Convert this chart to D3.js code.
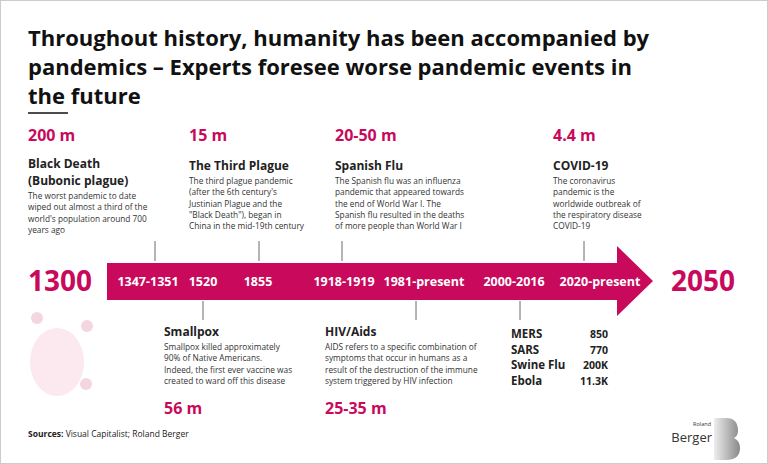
<!DOCTYPE html><html><head><meta charset="utf-8">
<script src="https://cdn.jsdelivr.net/npm/d3@7"></script>
<style>body{margin:0;background:#fff}text{font-family:"Open Sans",sans-serif}</style></head><body>
<script>
const periods=["1347-1351","1520","1855","1918-1919","1981-present","2000-2016","2020-present"];
const startYears=[1347,1520,1855,1918,1981,2000,2020];
const deaths=["200 m","56 m","15 m","20-50 m","25-35 m","","4.4 m"];
const names=["Black Death\n(Bubonic plague)","Smallpox","The Third Plague","Spanish Flu","HIV/Aids","","COVID-19"];
const descs=[
["The worst pandemic to date","wiped out almost a third of the","world's population around 700","years ago"],
["Smallpox killed approximately","90% of Native Americans.","Indeed, the first ever vaccine was","created to ward off this disease"],
["The third plague pandemic","(after the 6th century's","Justinian Plague and the","\"Black Death\"), began in","China in the mid-19th century"],
["The Spanish flu was an influenza","pandemic that appeared towards","the end of World War I.  The","Spanish flu resulted in the deaths","of more people than World War I"],
["AIDS refers to a specific combination of","symptoms that occur in humans as a","result of the destruction of the immune","system triggered by HIV infection"],
[],
["The coronavirus","pandemic is the","worldwide outbreak of","the respiratory disease","COVID-19"]];
const side=["up","down","up","up","down","down","up"];
const otherNames=["MERS","SARS","Swine Flu","Ebola"];
const otherDeaths=["850","770","200K","11.3K"];
const C="#c8095c";
const W=768,H=464;
const svg=d3.select("body").append("svg").attr("width",W).attr("height",H);
svg.append("rect").attr("x",0.5).attr("y",0.5).attr("width",W-1).attr("height",H-1).attr("fill","#fff").attr("stroke","#ccc");
const title=["Throughout history, humanity has been accompanied by","pandemics – Experts foresee worse pandemic events in","the future"];
svg.selectAll(".t").data(title).join("text").attr("x",28).attr("y",(d,i)=>46+i*29).attr("font-size",22).attr("font-weight",700).attr("fill","#111").attr("font-family","Lato, sans-serif").text(d=>d);
svg.append("line").attr("x1",28).attr("x2",68).attr("y1",113).attr("y2",113).attr("stroke","#111").attr("stroke-width",1.5);
const xLab=d3.scaleLinear().domain(startYears).range([148,203,258,344,424,514,600]);
const xTick=d3.scaleLinear().domain(startYears).range([155,203,259,342,416,520,584]);
const yMid=281;
svg.append("path").attr("d",`M107,263H617V246L653,${yMid}L617,316V300H107Z`).attr("fill",C);
svg.append("text").attr("x",28).attr("y",yMid+10).attr("font-size",28).attr("font-weight",700).attr("fill",C).text("1300");
svg.append("text").attr("x",671).attr("y",yMid+10).attr("font-size",28).attr("font-weight",700).attr("fill",C).text("2050");
svg.selectAll(".p").data(periods).join("text").attr("x",(d,i)=>xLab(startYears[i])).attr("y",yMid+5).attr("text-anchor","middle").attr("font-size",12.5).attr("font-weight",700).attr("fill","#fff").text(d=>d);
startYears.forEach((y,i)=>{
  const x=xTick(y),up=side[i]==="up";
  svg.append("line").attr("x1",x).attr("x2",x).attr("y1",up?241:301).attr("y2",up?261:320).attr("stroke","#444").attr("stroke-width",0.8);
});
const blockX=[28,164,189,335,325,511,553];
const g=svg.append("g");
startYears.forEach((y,i)=>{
  if(!names[i]) return;
  const x=blockX[i],up=side[i]==="up";
  const nm=names[i].split("\n");
  let yN=up?(nm.length>1?168:170):336;
  if(up){g.append("text").attr("x",x).attr("y",141).attr("font-size",16).attr("font-weight",700).attr("fill",C).text(deaths[i]);}
  nm.forEach((s,k)=>g.append("text").attr("x",x).attr("y",yN+k*17).attr("font-size",12).attr("font-weight",700).attr("fill","#222").text(s));
  const yD=yN+(nm.length-1)*17+14;
  descs[i].forEach((s,k)=>g.append("text").attr("x",x).attr("y",yD+k*11.3).attr("font-size",8.3).attr("fill","#333").text(s));
  if(!up){g.append("text").attr("x",x).attr("y",414).attr("font-size",16).attr("font-weight",700).attr("fill",C).text(deaths[i]);}
});
otherNames.forEach((n,k)=>{
  g.append("text").attr("x",511).attr("y",338+k*15.5).attr("font-size",11.5).attr("font-weight",700).attr("fill","#222").text(n);
  g.append("text").attr("x",608).attr("y",338+k*15.5).attr("text-anchor","end").attr("font-size",10.5).attr("font-weight",700).attr("fill","#222").text(otherDeaths[k]);
});
const s=svg.append("text").attr("x",28).attr("y",437).attr("font-size",8.5).attr("fill","#222");
s.append("tspan").attr("font-weight",700).text("Sources: ");s.append("tspan").text("Visual Capitalist; Roland Berger");
const ic=svg.append("g");
ic.append("ellipse").attr("cx",57).attr("cy",362).attr("rx",27).attr("ry",34).attr("fill","#fbe9ef");
[[37,318],[87,326],[86,384]].forEach(p=>ic.append("circle").attr("cx",p[0]).attr("cy",p[1]).attr("r",6).attr("fill","#f4d6e0"));
svg.append("text").attr("x",711).attr("y",426).attr("text-anchor","end").attr("font-size",5.5).attr("fill","#333").text("Roland");
svg.append("text").attr("x",712).attr("y",442).attr("text-anchor","end").attr("font-size",13).attr("fill","#333").text("Berger");
const lg=svg.append("defs").append("linearGradient").attr("id","gr");
lg.append("stop").attr("offset",0).attr("stop-color","#eee");lg.append("stop").attr("offset",1).attr("stop-color","#888");
svg.append("path").attr("d","M714,418H726Q738,418 738,431Q738,436 734,438Q740,441 740,448Q740,460 726,460H714Z").attr("fill","url(#gr)");
</script></body></html>
